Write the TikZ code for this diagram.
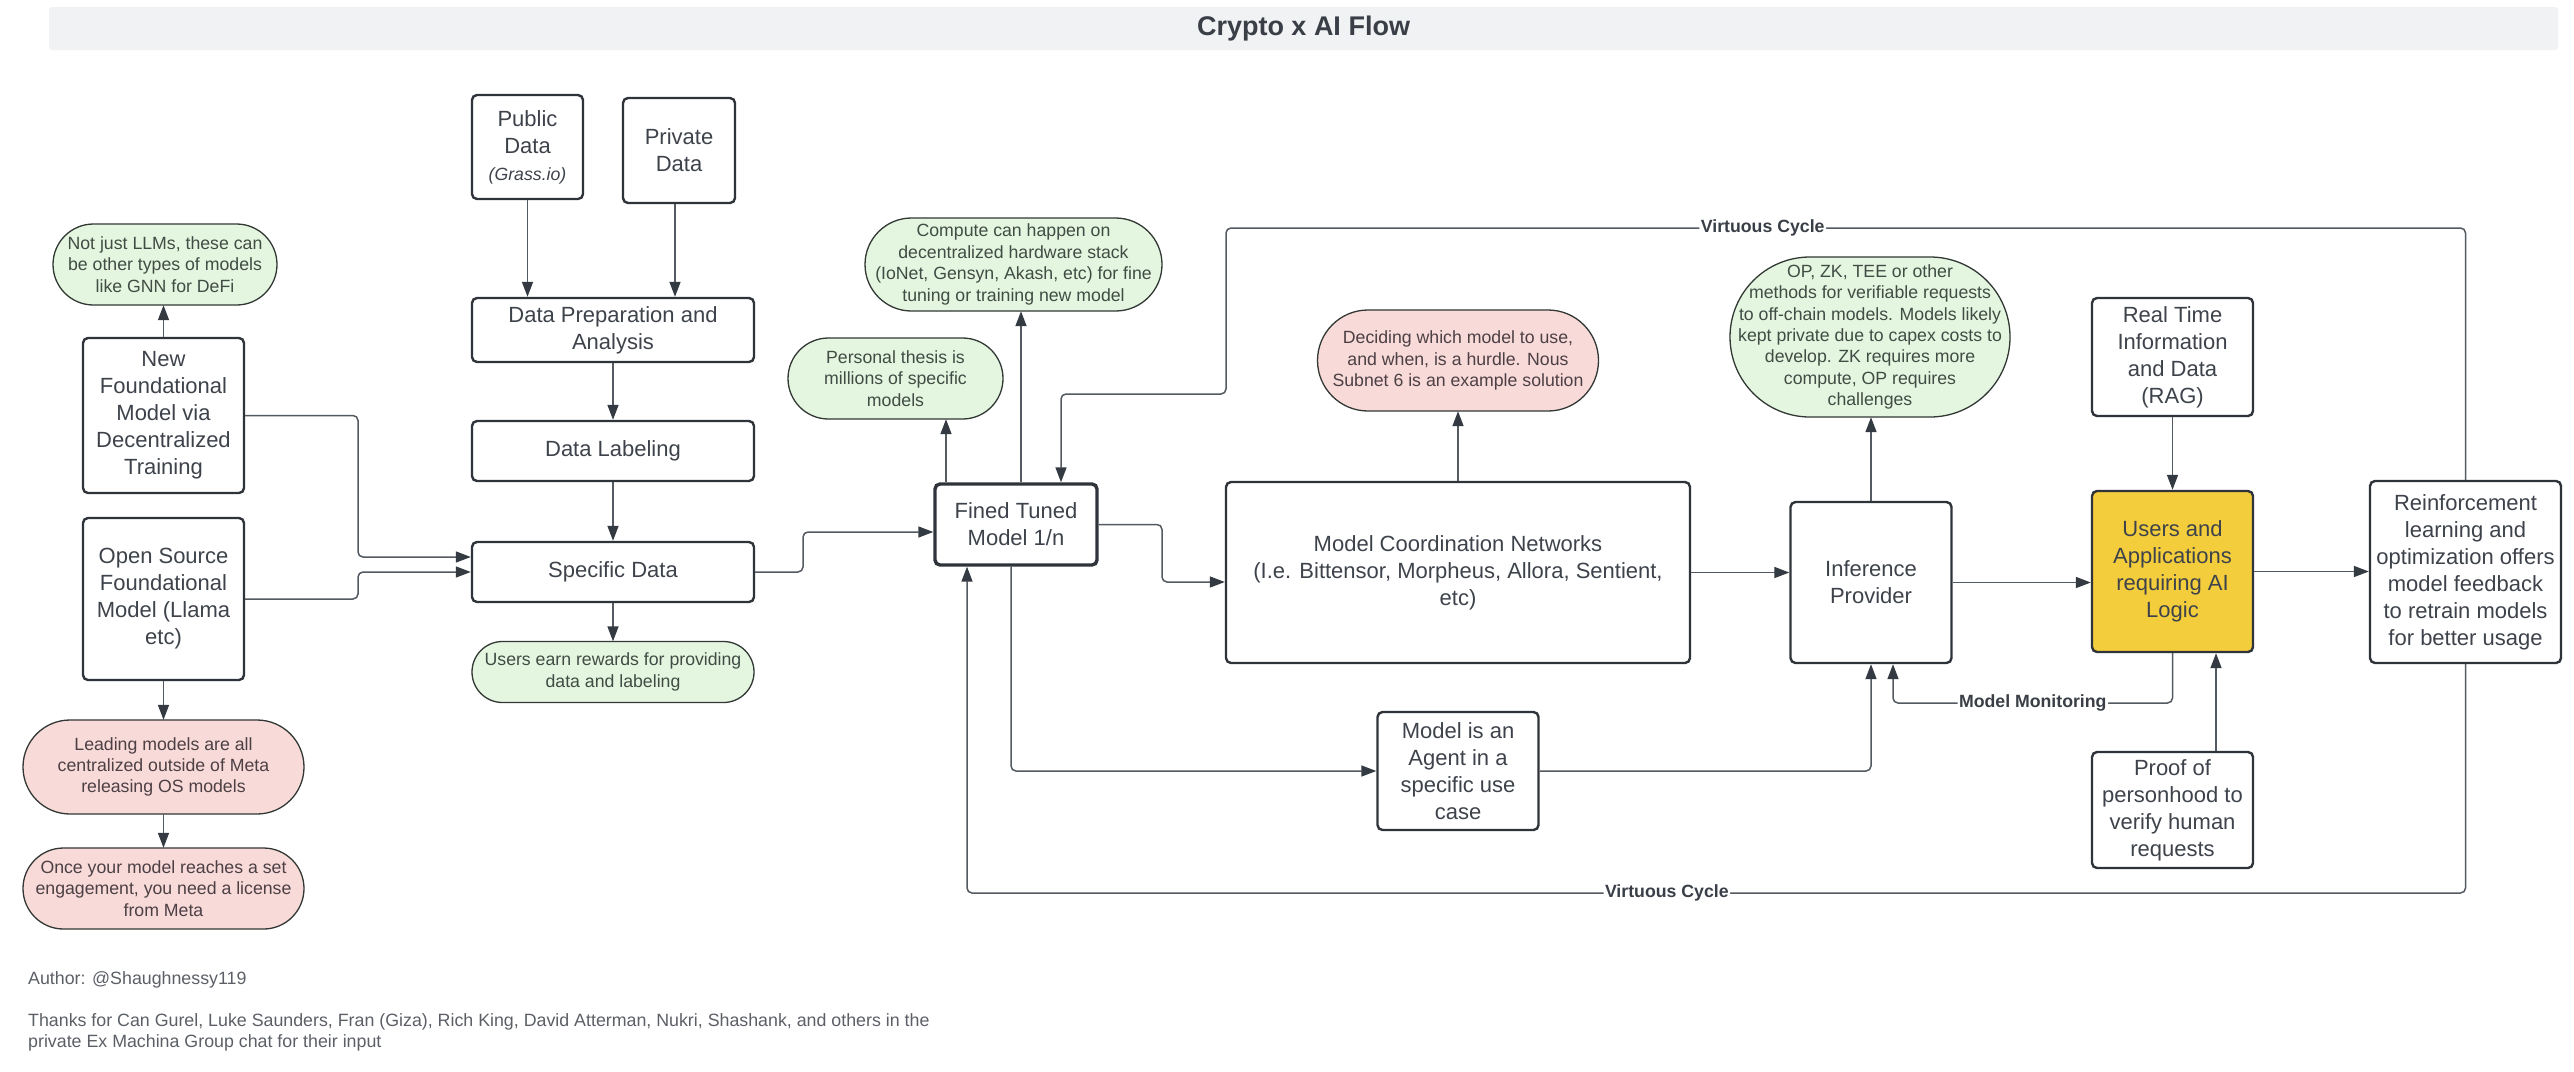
\documentclass[tikz,border=0pt]{standalone}
\usepackage{fontspec}
\setmainfont{Liberation Sans}
\usetikzlibrary{arrows.meta}
\definecolor{boxc}{RGB}{47,52,59}
\definecolor{linec}{RGB}{84,90,98}
\definecolor{tipc}{RGB}{52,58,66}
\definecolor{textc}{RGB}{62,67,75}
\definecolor{gfill}{RGB}{228,246,224}
\definecolor{rfill}{RGB}{248,218,217}
\definecolor{yfill}{RGB}{243,205,60}
\definecolor{gtext}{RGB}{64,76,68}
\definecolor{rtext}{RGB}{76,64,68}
\definecolor{barc}{RGB}{241,242,244}
\definecolor{titlec}{RGB}{58,63,71}
\definecolor{footc}{RGB}{92,96,102}
\definecolor{notec}{RGB}{50,56,52}
\newcommand\mystadium[5]{%
  \draw[line width=1.3pt, draw=notec, fill=#5]
    ({#1-#3/2+#4/2},{#2-#4/2}) -- ({#1+#3/2-#4/2},{#2-#4/2})
    arc[start angle=-90, end angle=90, radius={#4/2}]
    -- ({#1-#3/2+#4/2},{#2+#4/2})
    arc[start angle=90, end angle=270, radius={#4/2}] -- cycle;}
\begin{document}
\begin{tikzpicture}[x=1pt,y=-1pt,
  box/.style={draw=boxc, line width=2.4pt, rounded corners=5pt, fill=white, text=textc, align=center, inner sep=0pt, font=\fontsize{22}{27}\selectfont},
  notetext/.style={align=center, inner sep=0pt, font=\fontsize{17.7}{21.4}\selectfont},
  gtx/.style={notetext, text=gtext},
  rtx/.style={notetext, text=rtext},
  conn/.style={draw=linec, line width=1.5pt, rounded corners=5pt, -{Triangle[length=15pt,width=11pt,color=tipc]}},
  lbl/.style={fill=white, text=titlec, font=\bfseries\fontsize{17.7}{20}\selectfont, inner sep=1.5pt}]
\fill[white] (0,0) rectangle (2574,1071);
\useasboundingbox (0,0) rectangle (2574,1071);
% title
\node[fill=barc, rounded corners=3pt, minimum width=2509pt, minimum height=43pt, inner sep=0pt, text=titlec, font=\bfseries\fontsize{27}{30}\selectfont] (title) at (1303.5,28.5) {Crypto x AI Flow};
% note shapes
\mystadium{165}{264.5}{224}{81}{gfill}
\mystadium{163.5}{767}{281}{94}{rfill}
\mystadium{163.5}{888.5}{281}{81}{rfill}
\mystadium{613}{672}{282}{61}{gfill}
\mystadium{895.5}{378.5}{215}{81}{gfill}
\mystadium{1013.5}{264.5}{297}{93}{gfill}
\mystadium{1458}{360.5}{281}{101}{rfill}
\mystadium{1870}{337}{280}{160}{gfill}
% note texts
\node[gtx, minimum width=224pt, minimum height=81pt] (nllm) at (165,264.5) {Not just LLMs, these can\\be other types of models\\like GNN for DeFi};
\node[rtx, minimum width=281pt, minimum height=94pt] (nlead) at (163.5,767) {Leading models are all\\centralized outside of Meta\\releasing OS models};
\node[rtx, minimum width=281pt, minimum height=81pt] (nonce) at (163.5,888.5) {Once your model reaches a set\\engagement, you need a license\\from Meta};
\node[gtx, minimum width=282pt, minimum height=61pt] (nusers) at (613,672) {Users earn rewards for providing\\data and labeling};
\node[gtx, minimum width=215pt, minimum height=81pt] (npers) at (895.5,378.5) {Personal thesis is\\millions of specific\\models};
\node[gtx, minimum width=297pt, minimum height=93pt] (ncomp) at (1013.5,264.5) {Compute can happen on\\decentralized hardware stack\\(IoNet, Gensyn, Akash, etc) for fine\\tuning or training new model};
\node[rtx, minimum width=281pt, minimum height=101pt] (ndec) at (1458,360.5) {Deciding which model to use,\\and when, is a hurdle. Nous\\Subnet 6 is an example solution};
\node[gtx, minimum width=280pt, minimum height=160pt] (nop) at (1870,337) {OP, ZK, TEE or other\\methods for verifiable requests\\to off-chain models. Models likely\\kept private due to capex costs to\\develop. ZK requires more\\compute, OP requires\\challenges};
% boxes
\node[box, minimum width=161pt, minimum height=155pt] (newfm) at (163.5,415.5) {New\\Foundational\\Model via\\Decentralized\\Training};
\node[box, minimum width=161pt, minimum height=162pt] (osfm) at (163.5,599) {Open Source\\Foundational\\Model (Llama\\etc)};
\node[box, minimum width=111pt, minimum height=104pt] (pub) at (527.5,147) {Public\\Data\\{\fontsize{17.7}{26.5}\selectfont\itshape (Grass.io)}};
\node[box, minimum width=112pt, minimum height=105pt] (priv) at (679,150.5) {Private\\Data};
\node[box, minimum width=282pt, minimum height=64pt] (prep) at (613,330) {Data Preparation and\\Analysis};
\node[box, minimum width=282pt, minimum height=60pt] (lab) at (613,451) {Data Labeling};
\node[box, minimum width=282pt, minimum height=60pt] (spec) at (613,572) {Specific Data};
\node[box, line width=3.4pt, minimum width=162pt, minimum height=81pt] (ft) at (1016,524.5) {Fined Tuned\\Model 1/n};
\node[box, minimum width=464pt, minimum height=181pt] (mcn) at (1458,572.5) {Model Coordination Networks\\(I.e. Bittensor, Morpheus, Allora, Sentient,\\etc)};
\node[box, minimum width=161pt, minimum height=118pt] (agent) at (1458,771) {Model is an\\Agent in a\\specific use\\case};
\node[box, minimum width=161pt, minimum height=161pt] (ip) at (1871,582.5) {Inference\\Provider};
\node[box, minimum width=161pt, minimum height=118pt] (rt) at (2172.5,357) {Real Time\\Information\\and Data\\(RAG)};
\node[box, fill=yfill, minimum width=161pt, minimum height=161pt] (users) at (2172.5,571.5) {Users and\\Applications\\requiring AI\\Logic};
\node[box, minimum width=161pt, minimum height=116pt] (proof) at (2172.5,810) {Proof of\\personhood to\\verify human\\requests};
\node[box, minimum width=191pt, minimum height=182pt] (rl) at (2465.5,572) {Reinforcement\\learning and\\optimization offers\\model feedback\\to retrain models\\for better usage};
% footer
\node[anchor=west, inner sep=0pt, text=footc, font=\fontsize{17.8}{21.7}\selectfont] (author) at (28,980) {Author: @Shaughnessy119};
\node[anchor=north west, align=left, inner sep=0pt, text=footc, font=\fontsize{17.8}{21.7}\selectfont] (thanks) at (28,1013) {Thanks for Can Gurel, Luke Saunders, Fran (Giza), Rich King, David Atterman, Nukri, Shashank, and others in the\\private Ex Machina Group chat for their input};
% connectors
\draw[conn] (newfm.north) -- (newfm.north |- nllm.south);
\draw[conn] (newfm.east) -- (358,415.5) |- ([yshift=15pt]spec.west);
\draw[conn] (osfm.east) -- (358,599) |- (spec.west);
\draw[conn] (osfm.south) -- (nlead.north);
\draw[conn] (nlead.south) -- (nonce.north);
\draw[conn] (pub.south) -- (pub.south |- prep.north);
\draw[conn] ([xshift=-4pt]priv.south) -- ([xshift=-4pt]priv.south |- prep.north);
\draw[conn] (prep.south) -- (lab.north);
\draw[conn] (lab.south) -- (spec.north);
\draw[conn] (spec.south) -- (nusers.north);
\draw[conn] (spec.east) -- (803,572) |- ([yshift=-7.5pt]ft.west);
\draw[conn] ([xshift=-70pt]ft.north) -- ([xshift=-70pt]ft.north |- npers.south);
\draw[conn] ([xshift=5pt]ft.north) -- ([xshift=5pt]ft.north |- ncomp.south);
\draw[conn] (ft.east) -- (1162,524.5) |- ([yshift=-9.5pt]mcn.west);
\draw[conn] (mcn.north) -- (ndec.south);
\draw[conn] (mcn.east) -- (mcn.east -| ip.west);
\draw[conn] (ip.north) -- (ip.north |- nop.south);
\draw[conn] (ip.east) -- (ip.east -| users.west);
\draw[conn] (rt.south) -- (users.north);
\draw[conn] (users.east) -- (users.east -| rl.west);
\draw[conn] ([xshift=43.5pt]proof.north) -- ([xshift=43.5pt]users.south);
\draw[conn] (users.south) -- (2172.5,703) -- node[lbl]{Model Monitoring} (1893,703) -- ([xshift=22pt]ip.south);
\draw[conn] ([xshift=-5pt]ft.south) |- (agent.west);
\draw[conn] (agent.east) -| (ip.south);
\draw[conn] (rl.north) -- (2465.5,228) -- node[lbl,pos=0.567]{Virtuous Cycle} (1226,228) -- (1226,394) -| ([xshift=45pt]ft.north);
\draw[conn] (rl.south) -- (2465.5,893) -- node[lbl,pos=0.533]{Virtuous Cycle} (967,893) -- ([xshift=-49pt]ft.south);
\end{tikzpicture}
\end{document}
